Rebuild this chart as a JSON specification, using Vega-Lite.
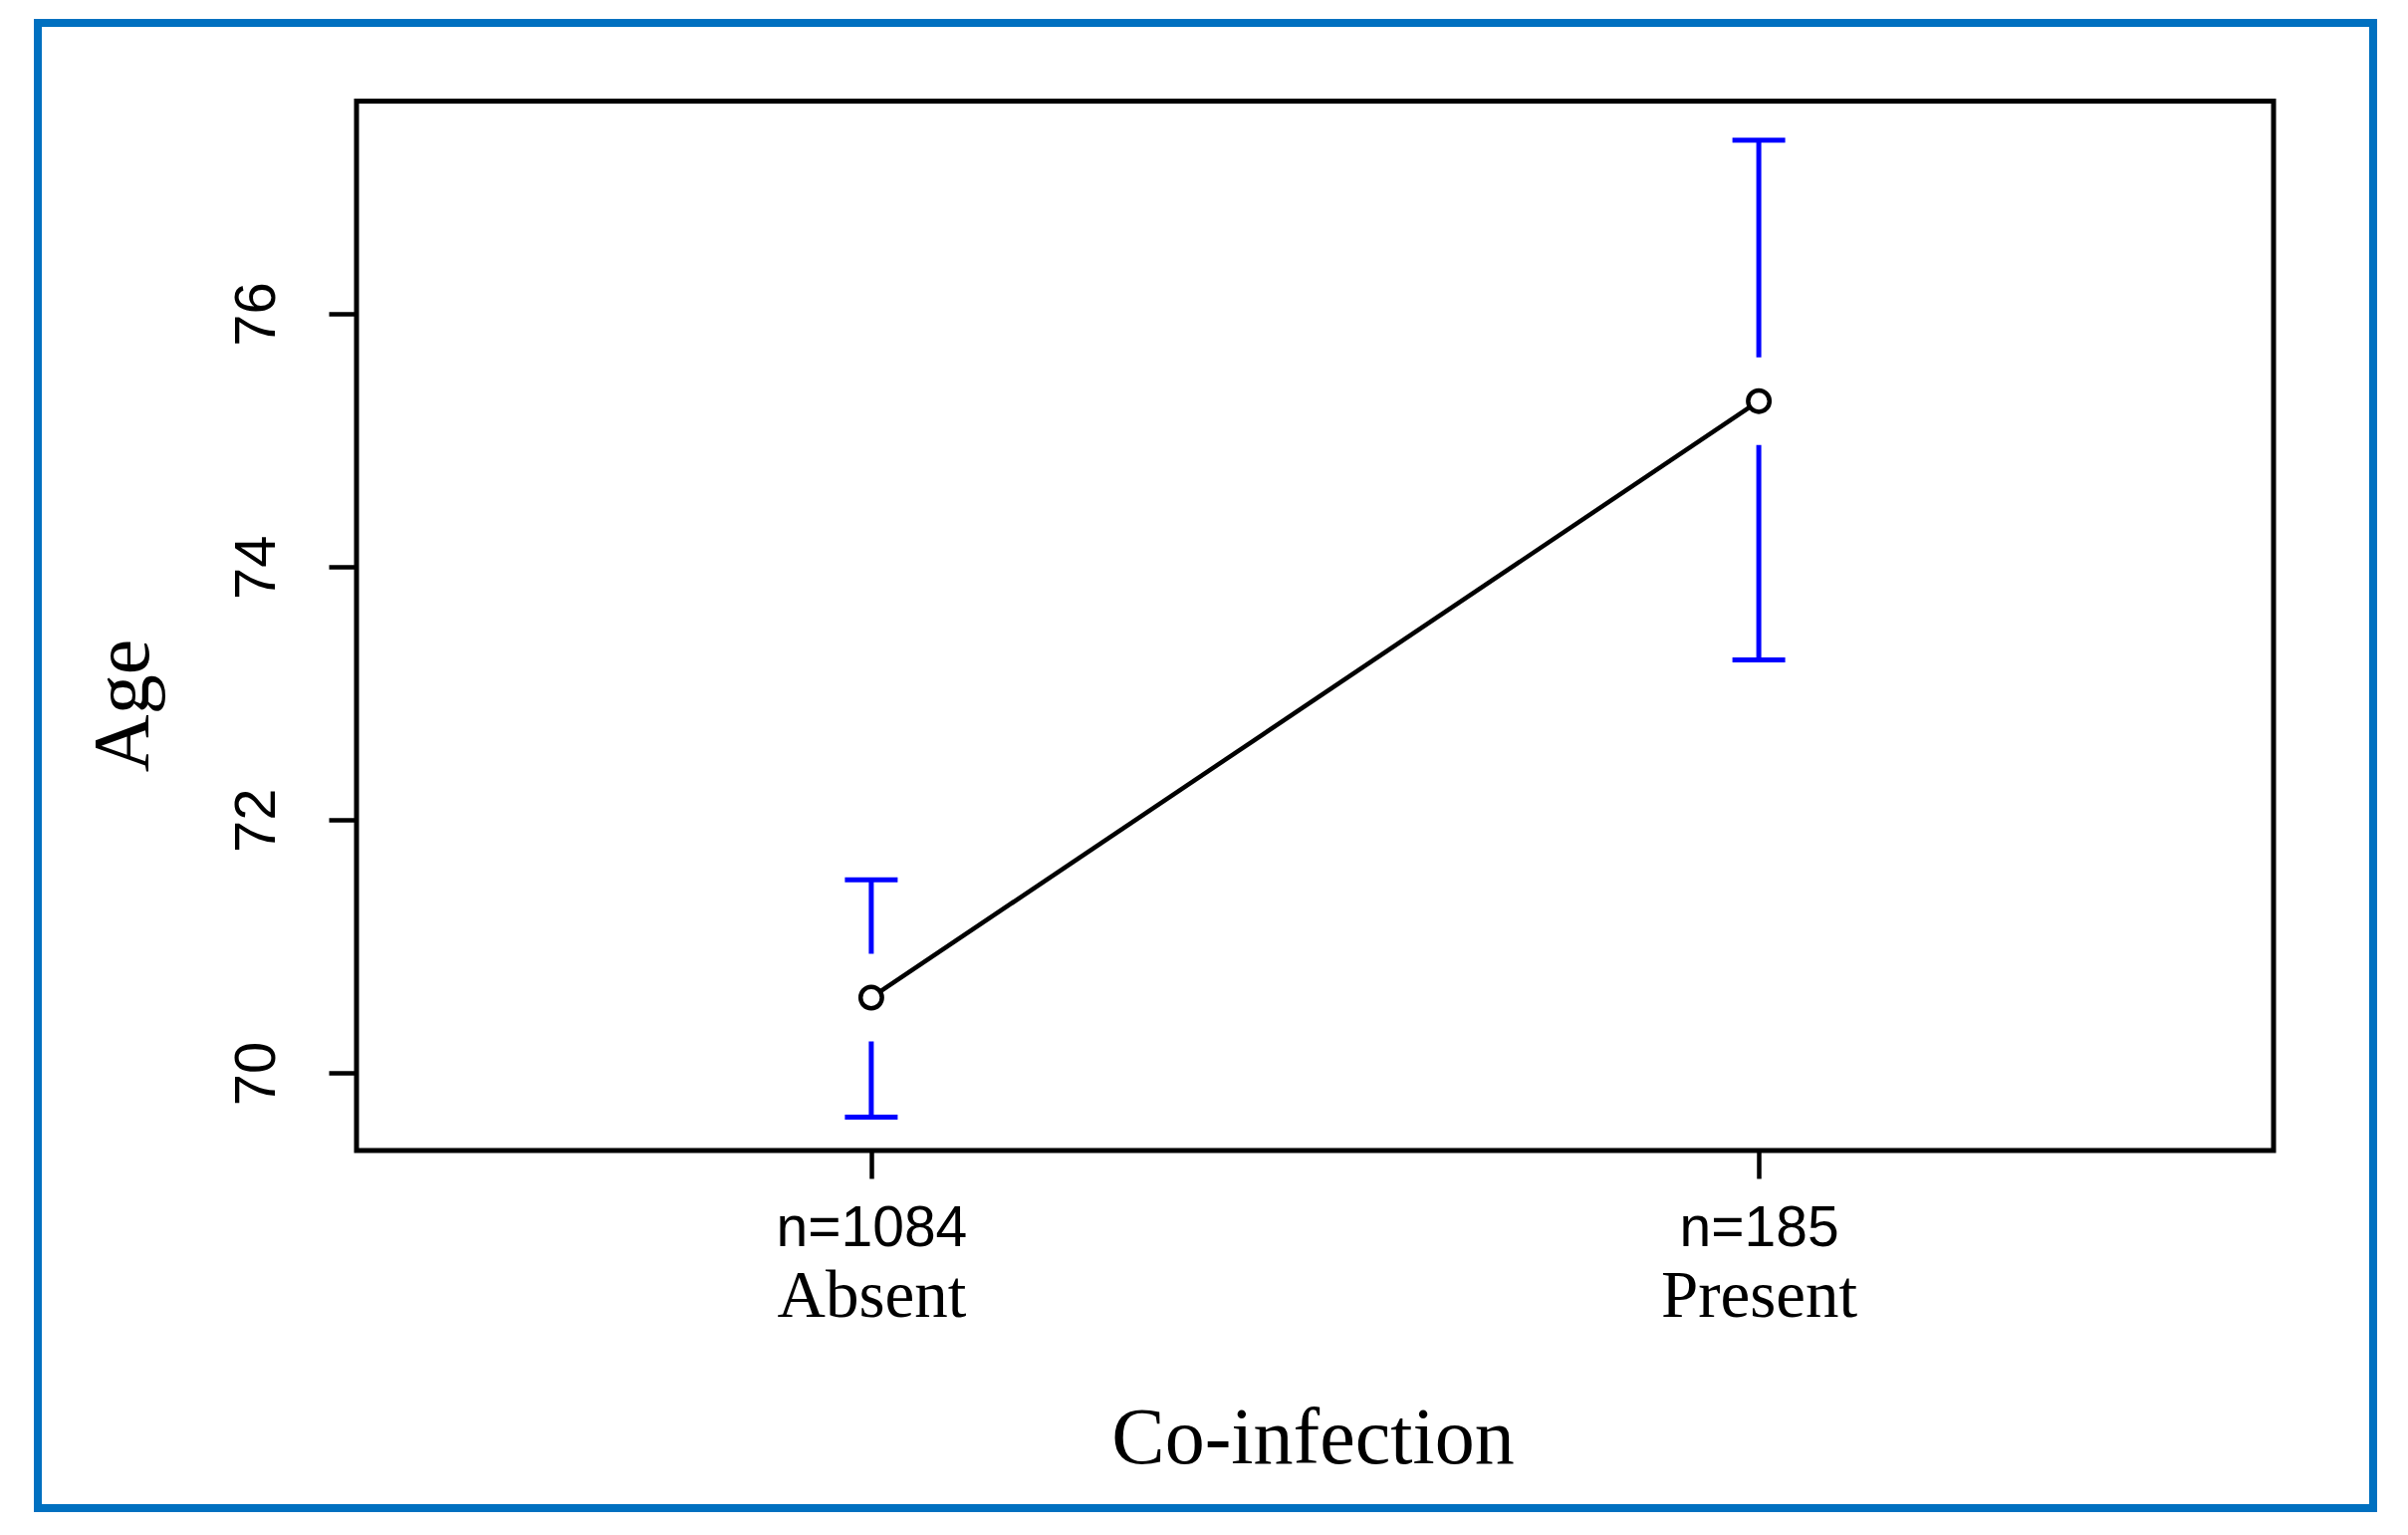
{
  "$schema": "https://vega.github.io/schema/vega-lite/v6.json",
  "autosize": "none",
  "width": 2345,
  "height": 1491,
  "padding": {"left": 38, "top": 23, "right": 35, "bottom": 27},
  "background": "white",
  "config": {
    "view": {"stroke": "#0070C0", "strokeWidth": 8},
    "axis": {"grid": false, "domain": false, "tickColor": "black", "labelColor": "black", "titleColor": "black", "labelLimit": 1000}
  },
  "data": {
    "values": [
      {"group": "Absent", "index": 1, "n": 1084, "mean": 70.598, "lower": 69.654, "upper": 71.529},
      {"group": "Present", "index": 2, "n": 185, "mean": 75.310, "lower": 73.265, "upper": 77.371}
    ]
  },
  "resolve": {"scale": {"x": "shared", "y": "shared"}, "axis": {"x": "independent", "y": "independent"}},
  "layer": [
    {
      "mark": {"type": "rule", "color": "#0000FF", "strokeWidth": 5},
      "encoding": {
        "x": {
          "field": "index", "type": "quantitative",
          "scale": {"domain": [0.42, 2.58], "range": [320, 2245], "nice": false, "zero": false},
          "axis": {
            "orient": "bottom", "offset": -359, "values": [1, 2],
            "labelExpr": "datum.value == 1 ? 'n=1084' : 'n=185'",
            "labelFont": "Liberation Sans", "labelFontSize": 57, "labelBaseline": "alphabetic", "labelAlign": "center",
            "labelPadding": 67, "tickSize": 28, "tickWidth": 4.5, "title": null, "labelFlush": false, "labelOverlap": false, "labelLimit": 1000
          }
        },
        "y": {
          "field": "lower", "type": "quantitative",
          "scale": {"domain": [69.39, 77.68], "range": [1132, 78.5], "nice": false, "zero": false},
          "axis": {
            "orient": "left", "offset": -320, "values": [70, 72, 74, 76],
            "labelFont": "Liberation Sans", "labelFontSize": 58, "labelAngle": 270,
            "labelAlign": "center", "labelBaseline": "alphabetic", "labelPadding": 55,
            "tickSize": 28, "tickWidth": 4.5, "labelFlush": false, "labelOverlap": false, "labelLimit": 1000,
            "title": "Age", "titleFont": "Liberation Serif", "titleFontSize": 80, "titleFontWeight": "normal",
            "titleAngle": 270, "titleX": -210, "titleY": 685, "titleAlign": "center", "titleBaseline": "alphabetic"
          }
        },
        "y2": {"field": "upper"}
      }
    },
    {
      "transform": [{"fold": ["lower", "upper"], "as": ["bound", "value"]}],
      "mark": {"type": "tick", "orient": "horizontal", "color": "#0000FF", "size": 53, "thickness": 5, "opacity": 1},
      "encoding": {
        "x": {
          "field": "index", "type": "quantitative",
          "axis": {
            "orient": "bottom", "offset": -359, "values": [1, 2],
            "labelExpr": "datum.value == 1 ? 'Absent' : 'Present'",
            "labelFont": "Liberation Serif", "labelFontSize": 67, "labelBaseline": "alphabetic", "labelAlign": "center",
            "labelPadding": 166, "ticks": false, "tickSize": 0, "labelFlush": false, "labelOverlap": false, "labelLimit": 1000,
            "title": "Co-infection", "titleFont": "Liberation Serif", "titleFontSize": 80, "titleFontWeight": "normal",
            "titleX": 1280, "titleY": 313, "titleAlign": "center", "titleBaseline": "alphabetic"
          }
        },
        "y": {"field": "value", "type": "quantitative", "axis": null}
      }
    },
    {
      "mark": {"type": "tick", "orient": "vertical", "color": "white", "size": 88, "thickness": 10, "opacity": 1},
      "encoding": {
        "x": {"field": "index", "type": "quantitative", "axis": null},
        "y": {"field": "mean", "type": "quantitative", "axis": null}
      }
    },
    {
      "mark": {"type": "line", "color": "black", "strokeWidth": 4.5},
      "encoding": {
        "x": {"field": "index", "type": "quantitative", "axis": null},
        "y": {"field": "mean", "type": "quantitative", "axis": null}
      }
    },
    {
      "mark": {"type": "point", "shape": "circle", "filled": true, "fill": "white", "stroke": "black", "strokeWidth": 4.5, "size": 460, "opacity": 1},
      "encoding": {
        "x": {"field": "index", "type": "quantitative", "axis": null},
        "y": {"field": "mean", "type": "quantitative", "axis": null}
      }
    },
    {
      "data": {"values": [{"frame": "plot"}]},
      "mark": {"type": "rect", "fill": "white", "fillOpacity": 0, "stroke": "black", "strokeWidth": 5},
      "encoding": {
        "x": {"datum": 0.42, "type": "quantitative", "axis": null},
        "x2": {"datum": 2.58},
        "y": {"datum": 69.39, "type": "quantitative", "axis": null},
        "y2": {"datum": 77.68}
      }
    }
  ]
}
